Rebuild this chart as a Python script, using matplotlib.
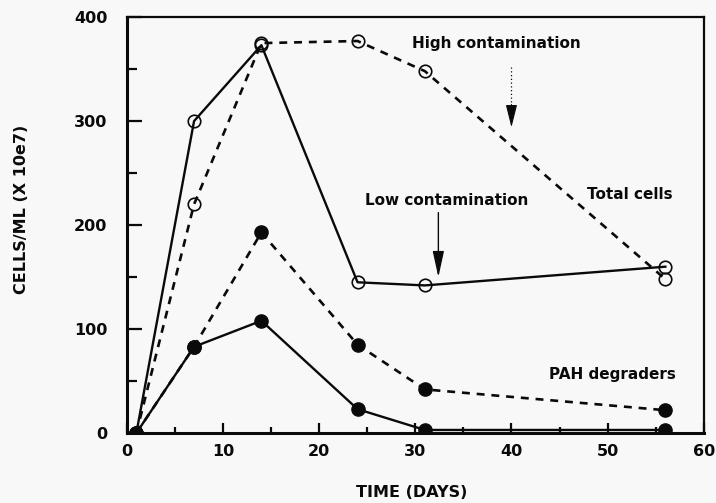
import matplotlib
matplotlib.use("Agg")
import matplotlib.pyplot as plt
from matplotlib.ticker import MultipleLocator

# Sampling days and cell counts (cells/mL, x 10e7)
days = [1, 7, 14, 24, 31, 56]
total_low = [0, 300, 373, 145, 142, 160]
total_high = [0, 220, 375, 377, 348, 148]
pah_low = [0, 83, 108, 23, 3, 3]
pah_high = [0, 83, 193, 85, 42, 22]

x_ticks = [0, 10, 20, 30, 40, 50, 60]
y_ticks = [0, 100, 200, 300, 400]

bg = "#f8f8f8"
ink = "#0a0a0a"
font = "DejaVu Sans"

fig = plt.figure(figsize=(7.16, 5.03), dpi=100, facecolor=bg)
ax = fig.add_axes([0.177, 0.139, 0.806, 0.827], facecolor=bg)

dash = (0, (3.0, 2.6))
ax.plot(days, total_low, color=ink, lw=1.7, marker="o", ms=9,
        mfc="none", mec=ink, mew=1.2, zorder=3)
ax.plot(days, total_high, color=ink, lw=1.9, ls=dash, marker="o", ms=9,
        mfc="none", mec=ink, mew=1.2, zorder=3)
ax.plot(days, pah_low, color=ink, lw=1.7, marker="o", ms=9.5,
        mfc=ink, mec=ink, zorder=3)
ax.plot(days, pah_high, color=ink, lw=1.9, ls=dash, marker="o", ms=9.5,
        mfc=ink, mec=ink, zorder=3)

ax.set_xlim(0, 60)
ax.set_ylim(0, 400)
ax.set_xticks(x_ticks)
ax.set_yticks(y_ticks)
ax.xaxis.set_minor_locator(MultipleLocator(5))
ax.yaxis.set_minor_locator(MultipleLocator(50))
ax.tick_params(axis="both", which="both", direction="in", top=False,
               right=False, color=ink, width=1.6)
ax.tick_params(axis="y", which="major", length=11, pad=14)
ax.tick_params(axis="y", which="minor", length=7)
ax.tick_params(axis="x", which="major", length=7, pad=8)
ax.tick_params(axis="x", which="minor", length=4)
for lab in ax.get_xticklabels() + ax.get_yticklabels():
    lab.set_fontfamily(font)
    lab.set_fontweight("bold")
    lab.set_fontsize(11.5)
    lab.set_color(ink)

for side in ("left", "bottom"):
    ax.spines[side].set_linewidth(2.2)
for side in ("top", "right"):
    ax.spines[side].set_linewidth(1.6)
for sp in ax.spines.values():
    sp.set_color(ink)

ax.set_xlabel("TIME (DAYS)", fontfamily=font, fontweight="bold",
              fontsize=11.5, color=ink)
ax.set_ylabel("CELLS/ML (X 10e7)", fontfamily=font, fontweight="bold",
              fontsize=11.5, color=ink)
ax.xaxis.set_label_coords(0.494, -0.144)
ax.yaxis.set_label_coords(-0.183, 0.538)
ax.xaxis.label.set_va("center")
ax.yaxis.label.set_va("center")

txt = dict(fontfamily=font, fontweight="bold", fontsize=11, color=ink,
           ha="center", va="center")
ax.text(38.4, 375, "High contamination", **txt)
ax.text(33.3, 224, "Low contamination", **txt)
ax.text(52.3, 229, "Total cells", **txt)
ax.text(50.5, 56, "PAH degraders", **txt)

# pointer for the high contamination series: dotted stem with solid head
ax.plot([40, 40], [352, 318], color=ink, lw=0.9, ls=(0, (1, 2)))
ax.annotate("", xy=(40, 294), xytext=(40, 316),
            arrowprops=dict(arrowstyle="-|>,head_length=1.4,head_width=0.35",
                            color=ink, lw=0.8, shrinkA=0, shrinkB=0))
# pointer for the low contamination series
ax.annotate("", xy=(32.4, 150), xytext=(32.4, 212),
            arrowprops=dict(arrowstyle="-|>,head_length=1.6,head_width=0.35",
                            color=ink, lw=1.0, shrinkA=0, shrinkB=0))

fig.savefig("out.png", dpi=100, facecolor=bg)
